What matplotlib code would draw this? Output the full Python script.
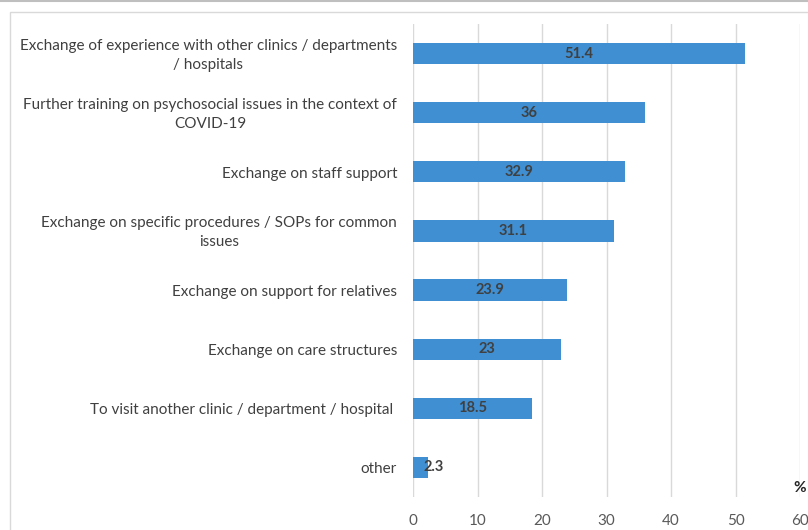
import matplotlib as mpl
mpl.use("Agg")
from matplotlib import pyplot as plt
from matplotlib.patches import Rectangle

plt.rcParams["font.family"] = ["Lato", "DejaVu Sans"]

# - data
categories = [
    "Exchange of experience with other clinics / departments\n/ hospitals",
    "Further training on psychosocial issues in the context of\nCOVID-19",
    "Exchange on staff support",
    "Exchange on specific procedures / SOPs for common\nissues",
    "Exchange on support for relatives",
    "Exchange on care structures",
    "To visit another clinic / department / hospital ",
    "other",
]
values = [51.4, 36, 32.9, 31.1, 23.9, 23, 18.5, 2.3]
value_labels = ["51.4", "36", "32.9", "31.1", "23.9", "23", "18.5", "2.3"]
xticks = [0, 10, 20, 30, 40, 50, 60]

bar_color = "#3F8FD2"
text_color = "#404040"

fig = plt.figure(figsize=(8.08, 5.30), dpi=100)
ax = fig.add_axes([413/808, 1-497/530, 387/808, (497-24)/530])

# frame lines of the chart area
fig.patches.append(Rectangle((10/808, -0.1), 1.0, 1-12/530+0.1, transform=fig.transFigure,
                             fill=False, edgecolor="#D9D9D9", lw=1.0))
fig.add_artist(plt.Line2D([0, 1], [1-1/530, 1-1/530], transform=fig.transFigure,
                          color="#BFBFBF", lw=1.5))

ypos = list(range(len(categories)))
ax.barh(ypos, values, height=0.36, color=bar_color, zorder=3)
for y, v, lab in zip(ypos, values, value_labels):
    xt = v/2 if v > 5 else v/2 + 2.0
    ax.text(xt, y, lab, ha="center", va="center",
            fontsize=10.5, fontweight="bold", color=text_color, zorder=4)

ax.set_ylim(len(categories)-0.5, -0.5)
ax.set_xlim(0, 60)
ax.set_xticks(xticks)
ax.set_xticklabels([str(t) for t in xticks], fontsize=11, color="#595959")
# category labels sit a touch below the bar centre, like in Excel
ax.set_yticks([y + 0.03 for y in ypos])
ax.set_yticklabels(categories, fontsize=11.0, color=text_color,
                   multialignment="center", linespacing=1.45, va="center")
ax.tick_params(axis="both", length=0)
ax.tick_params(axis="y", pad=11.5)
ax.tick_params(axis="x", pad=12)
ax.grid(axis="x", color="#D9D9D9", lw=1.0, zorder=0)
for s in ax.spines.values():
    s.set_visible(False)

fig.text(800/808, 1-488/530, "%", ha="center", va="center",
         fontsize=11, fontweight="bold", color="#262626")

plt.savefig("out.png", dpi=100)
plt.close()
